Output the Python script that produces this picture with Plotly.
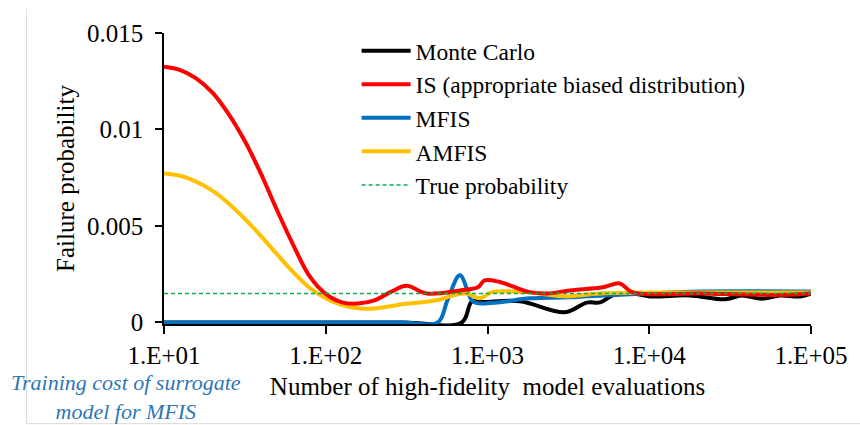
import plotly.graph_objects as go

# Number of high-fidelity model evaluations (x) and failure-probability estimates (y)
n_mc = [10, 300, 693, 800, 935, 1585, 3013, 4111, 4955, 5957, 7925, 10090, 17800,
        29400, 37400, 49800, 64400, 85500, 100000]
p_mc = [0, 0, 0, 0.00108, 0.00106, 0.0011, 0.00053, 0.00103, 0.00104, 0.0014, 0.0015,
        0.00135, 0.0014, 0.0012, 0.0014, 0.00123, 0.0014, 0.00135, 0.0015]

n_is = [10, 12.6, 15.8, 20, 25.1, 31.6, 39.8, 50.1, 63.1, 79.4, 100, 126, 158, 200, 251,
        316, 422, 675, 870, 960, 1190, 1820, 2330, 3230, 5160, 6580, 7900, 20600, 64400,
        100000]
p_is = [0.01325, 0.01308, 0.01265, 0.0119, 0.0108, 0.0094, 0.0077, 0.0058, 0.004,
        0.0024, 0.00148, 0.00104, 0.00098, 0.00114, 0.00157, 0.0019, 0.0015, 0.00166,
        0.00182, 0.00218, 0.0021, 0.00157, 0.0015, 0.00166, 0.00182, 0.00202, 0.00156,
        0.0015, 0.00143, 0.0015]

n_mfis = [10, 100, 300, 492, 568, 675, 800, 859, 1190, 1824, 3230, 5160, 10000, 20000, 100000]
p_mfis = [0, 0, 0, 0, 0.0012, 0.00244, 0.00114, 0.001, 0.00105, 0.00125, 0.0013, 0.0014,
          0.0015, 0.0016, 0.0016]

n_amfis = [10, 12.6, 15.8, 20, 25.1, 31.6, 39.8, 50.1, 63.1, 79.4, 100, 126, 158, 200, 251,
           316, 398, 501, 610, 745, 895, 1064, 1824, 3090, 4955, 20600, 100000]
p_amfis = [0.00772, 0.0076, 0.0073, 0.00682, 0.00617, 0.00537, 0.00447, 0.00352, 0.0026,
           0.0018, 0.00125, 0.0009, 0.00074, 0.00072, 0.00084, 0.00097, 0.00105, 0.00118,
           0.0014, 0.0015, 0.00125, 0.00157, 0.00155, 0.00135, 0.0015, 0.00155, 0.00155]

n_true = [10, 100000]
p_true = [0.0015, 0.0015]

x_tickvals = [10, 100, 1000, 10000, 100000]
x_ticktext = ["1.E+01", "1.E+02", "1.E+03", "1.E+04", "1.E+05"]
y_tickvals = [0, 0.005, 0.01, 0.015]
y_ticktext = ["0", "0.005", "0.01", "0.015"]

FONT = "Liberation Serif, Times New Roman, serif"
BLUE_TXT = "#2E75B6"

fig = go.Figure()

def curve(x, y, name, color, rank, width=4):
    fig.add_trace(go.Scatter(
        x=x, y=y, name=name, mode="lines", legendrank=rank,
        line=dict(color=color, width=width, shape="spline", smoothing=1.0),
    ))

curve(n_mc, p_mc, "Monte Carlo", "#000000", 1)
curve(n_mfis, p_mfis, "MFIS", "#0070C0", 3)
curve(n_amfis, p_amfis, "AMFIS", "#FFC000", 4)
curve(n_is, p_is, "IS (appropriate biased distribution)", "#FF0000", 2)
fig.add_trace(go.Scatter(
    x=n_true, y=p_true, name="True probability", mode="lines", legendrank=5,
    line=dict(color="#00B050", width=1.5, dash="4px,3px"),
))

# Double-headed arrow marking the surrogate training cost (log10 units on x)
ya = -0.00026
dy = 0.00052
x0, x1 = 1.0, 2.707
ddx = 0.087
fig.add_shape(type="line", xref="x", yref="y", x0=x0, x1=x1, y0=ya, y1=ya,
              line=dict(color=BLUE_TXT, width=1.5))
fig.add_shape(type="path", xref="x", yref="y",
              path=f"M{x0+ddx},{ya+dy} L{x0},{ya} L{x0+ddx},{ya-dy}",
              line=dict(color=BLUE_TXT, width=1.5))
fig.add_shape(type="path", xref="x", yref="y",
              path=f"M{x1-ddx},{ya+dy} L{x1},{ya} L{x1-ddx},{ya-dy}",
              line=dict(color=BLUE_TXT, width=1.5))
# Leader line to the note
fig.add_shape(type="line", xref="x", yref="y", x0=1.455, y0=-0.00104, x1=1.368, y1=-0.00275,
              line=dict(color="#2F5597", width=1.5))

fig.add_annotation(
    text="Training cost of surrogate<br>model for MFIS",
    xref="paper", yref="paper", x=-0.058, y=-0.252, xanchor="center", yanchor="middle",
    showarrow=False, font=dict(family=FONT, size=22, color=BLUE_TXT, style="italic"),
)

# Outer frame lines (left and bottom)
fig.add_shape(type="line", xref="paper", yref="paper", x0=-0.2127, x1=-0.2127,
              y0=1.083, y1=-0.3425, line=dict(color="#D9D9D9", width=1))
fig.add_shape(type="line", xref="paper", yref="paper", x0=-0.2127, x1=1.1,
              y0=-0.3425, y1=-0.3425, line=dict(color="#D9D9D9", width=1))

fig.update_layout(
    width=860, height=425,
    margin=dict(l=164, r=49, t=33, b=101),
    paper_bgcolor="white", plot_bgcolor="white",
    font=dict(family=FONT, size=25, color="#000000"),
    showlegend=True,
    legend=dict(x=0.2977, y=1.014, xanchor="left", yanchor="top",
                bgcolor="rgba(0,0,0,0)", itemwidth=49, tracegroupgap=0,
                font=dict(family=FONT, size=23.5)),
    xaxis=dict(
        type="log", range=[1, 5], tickvals=x_tickvals, ticktext=x_ticktext,
        ticks="outside", ticklen=8, tickwidth=1.5, tickcolor="#000000",
        showline=True, linecolor="#000000", linewidth=1.5, showgrid=False,
        zeroline=False, layer="below traces",
        title=dict(text="Number of high-fidelity  model evaluations", standoff=10,
                   font=dict(family=FONT, size=25)),
    ),
    yaxis=dict(
        range=[-0.00008, 0.015], tickvals=y_tickvals, ticktext=y_ticktext,
        ticks="outside", ticklen=7, tickwidth=1.5, tickcolor="#000000",
        showline=True, linecolor="#000000", linewidth=1.5, showgrid=False,
        zeroline=False, layer="below traces", ticklabelstandoff=7,
        title=dict(text="Failure probability", standoff=5,
                   font=dict(family=FONT, size=25)),
    ),
)

fig.write_html("out.html")
